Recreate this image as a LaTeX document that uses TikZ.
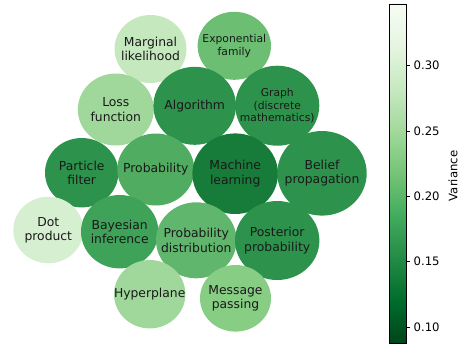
\documentclass[tikz,border=0pt]{standalone}
\usepackage{fontspec}
\setmainfont{DejaVu Sans}
\usetikzlibrary{shapes.geometric}
\definecolor{g0}{RGB}{247,252,245}
\definecolor{g1}{RGB}{229,245,224}
\definecolor{g2}{RGB}{199,233,192}
\definecolor{g3}{RGB}{161,217,155}
\definecolor{g4}{RGB}{116,196,118}
\definecolor{g5}{RGB}{65,171,93}
\definecolor{g6}{RGB}{35,139,69}
\definecolor{g7}{RGB}{0,109,44}
\definecolor{g8}{RGB}{0,68,27}
\definecolor{cML}{RGB}{23,124,58}
\definecolor{cDark}{RGB}{45,147,76}
\definecolor{cBay}{RGB}{62,162,88}
\definecolor{cProb}{RGB}{80,172,96}
\definecolor{cPD}{RGB}{96,182,109}
\definecolor{cExp}{RGB}{108,190,114}
\definecolor{cMsg}{RGB}{135,205,132}
\definecolor{cLoss}{RGB}{160,216,155}
\definecolor{cMarg}{RGB}{197,232,190}
\definecolor{cDot}{RGB}{215,239,209}
\newcommand\bubble[7]{%
  \fill[#6] (#2,#3) ellipse [x radius=#4, y radius=#5];
  \node[txt] (#1) at (#2,#3) {#7};}
\begin{document}
\begin{tikzpicture}[x=1bp,y=-1bp,
  txt/.style={align=center,inner sep=0pt,text=black!90,font=\fontsize{12.4}{14.3}\selectfont},
  smalltxt/.style={font=\fontsize{10.8}{12.5}\selectfont},
  ticklbl/.style={anchor=west,inner sep=0pt,font=\fontsize{11.7}{13}\selectfont}]
\useasboundingbox (0,0) rectangle (463,346);
% bubbles
\bubble{marg}{150.5}{49}{36}{34}{cMarg}{Marginal\\likelihood}
\fill[cExp] (234.3,45.8) ellipse [x radius=36.7, y radius=34];
\node[txt,smalltxt] (exp) at (234.3,45.8) {Exponential\\family};
\bubble{loss}{115.8}{109.5}{38}{36}{cLoss}{Loss\\function}
\bubble{alg}{194.7}{105.8}{41.3}{39}{cDark}{Algorithm}
\fill[cDark] (277.3,105.7) ellipse [x radius=42, y radius=40];
\node[txt,smalltxt] (graph) at (277.3,105.7) {Graph\\(discrete\\mathematics)};
\bubble{pf}{81.7}{172.7}{36.7}{34.7}{cDark}{Particle\\filter}
\bubble{prob}{155.8}{169.5}{38.5}{36}{cProb}{Probability}
\bubble{ml}{235.2}{173.7}{42.8}{40.3}{cML}{Machine\\learning}
\bubble{bp}{322}{173.3}{44.7}{42.3}{cDark}{Belief\\propagation}
\bubble{dot}{48.3}{230}{35}{33.3}{cDot}{Dot\\product}
\bubble{bay}{119.7}{231.7}{38.7}{36.7}{cBay}{Bayesian\\inference}
\bubble{pd}{196.3}{240.3}{40.3}{38}{cPD}{Probability\\distribution}
\bubble{post}{277.2}{240.5}{42.2}{39.5}{cDark}{Posterior\\probability}
\bubble{hyp}{149.7}{294.2}{35.7}{34.2}{cLoss}{Hyperplane}
\bubble{msg}{235.5}{298.3}{35.5}{33.3}{cMsg}{Message\\passing}
% colorbar
\foreach \k/\bc/\tc in {0/g8/g7,1/g7/g6,2/g6/g5,3/g5/g4,4/g4/g3,5/g3/g2,6/g2/g1,7/g1/g0}{
  \shade[bottom color=\bc,top color=\tc] (389,{343-\k*42.375+0.3}) rectangle (406,{343-(\k+1)*42.375-0.3});
}
\draw[line width=0.8bp] (389,4) rectangle (406,343);
\foreach \v/\yy in {0.30/65,0.25/131,0.20/196,0.15/261,0.10/327}{
  \draw[line width=0.8bp] (406,\yy) -- (409.5,\yy);
  \node[ticklbl] at (413.5,\yy) {\v};
}
\node[rotate=90,inner sep=0pt,font=\fontsize{11.7}{13}\selectfont] (lbl) at (453,176) {Variance};
\end{tikzpicture}
\end{document}
